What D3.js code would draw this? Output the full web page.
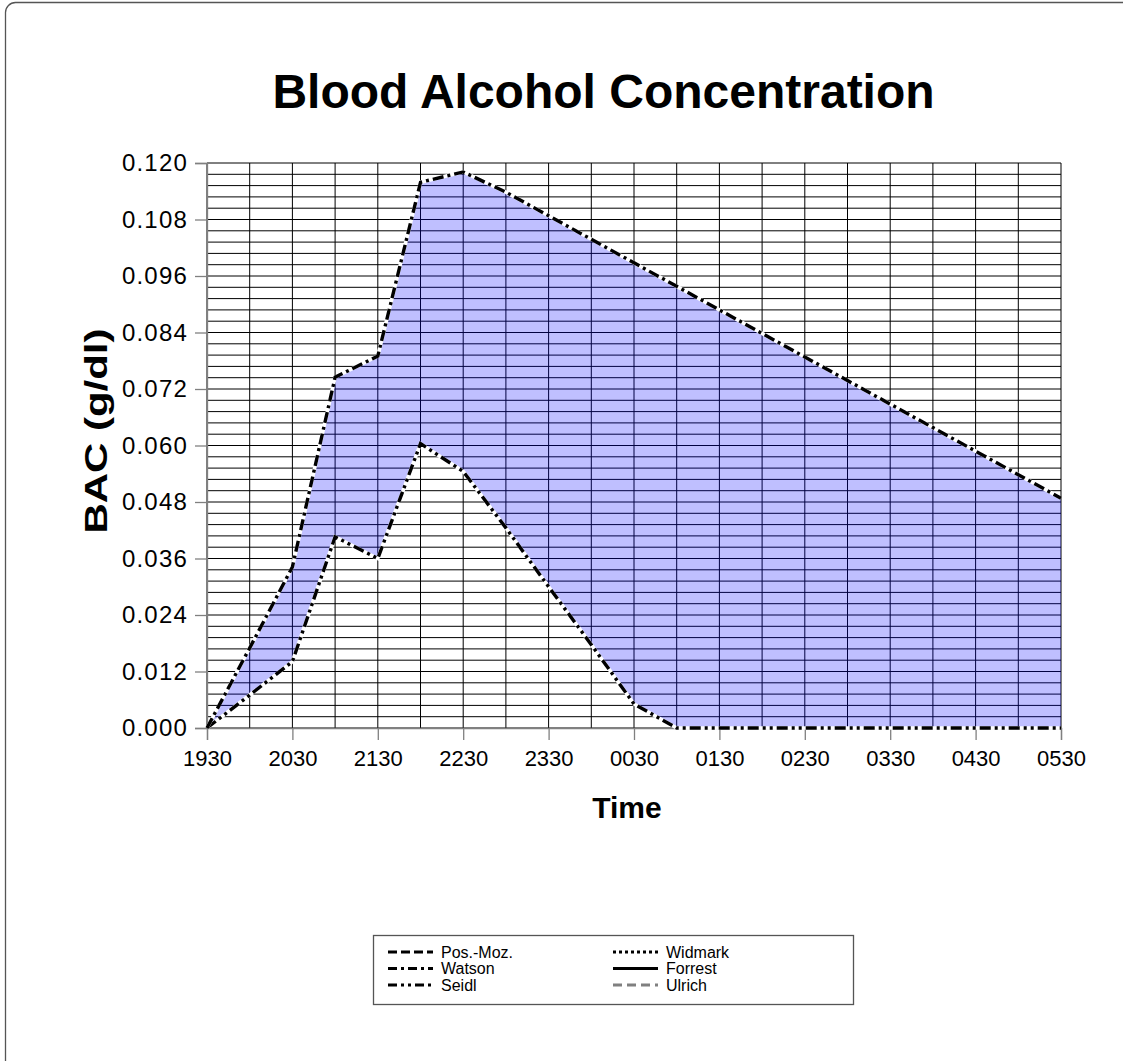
<!DOCTYPE html>
<html>
<head>
<meta charset="utf-8">
<script src="https://cdn.jsdelivr.net/npm/d3@7"></script>
<style>
  html, body { margin: 0; padding: 0; background: #fff; }
  svg { display: block; }
  text { font-family: "Liberation Sans", Arial, sans-serif; }
</style>
</head>
<body>
<svg id="chart" width="1123" height="1061"></svg>
<script>
// ---- data ----
const times = ["1930","2000","2030","2100","2130","2200","2230","2300","2330","0000","0030",
               "0100","0130","0200","0230","0300","0330","0400","0430","0500","0530"];
const xTickLabels = ["1930","2030","2130","2230","2330","0030","0130","0230","0330","0430","0530"];
const yTickValues = [0, 0.012, 0.024, 0.036, 0.048, 0.060, 0.072, 0.084, 0.096, 0.108, 0.120];
const watson = [0, 0.0170, 0.0342, 0.0745, 0.0790, 0.1159, 0.1181, 0.1138, 0.1088, 0.1038, 0.0988,
                0.0938, 0.0888, 0.0838, 0.0788, 0.0738, 0.0688, 0.0638, 0.0588, 0.0538, 0.0488];
const seidl  = [0, 0.0070, 0.0141, 0.0406, 0.0360, 0.0604, 0.0545, 0.0425, 0.0300, 0.0177, 0.0051,
                0, 0, 0, 0, 0, 0, 0, 0, 0, 0];
const legendNames = ["Pos.-Moz.", "Watson", "Seidl", "Widmark", "Forrest", "Ulrich"];

// ---- layout ----
const svg = d3.select("#chart");
const pLeft = 207, pRight = 1061, pTop = 163, pBottom = 728;

svg.append("rect").attr("x", 5.5).attr("y", 2.5).attr("width", 1150).attr("height", 1080)
  .attr("rx", 10).attr("fill", "none").attr("stroke", "#555").attr("stroke-width", 1.3);

const x = d3.scalePoint().domain(times).range([pLeft, pRight]);
const y = d3.scaleLinear().domain([0, 0.12]).range([pBottom, pTop]);

// gridlines
const g = svg.append("g");
const minorY = d3.range(0, 0.12 + 1e-9, 0.0024);
g.selectAll("line.h").data(minorY).join("line").attr("class", "h")
  .attr("x1", pLeft).attr("x2", pRight).attr("y1", d => y(d)).attr("y2", d => y(d))
  .attr("stroke", "#000").attr("stroke-width", 1);
g.selectAll("line.v").data(times).join("line").attr("class", "v")
  .attr("x1", d => x(d)).attr("x2", d => x(d)).attr("y1", pTop).attr("y2", pBottom)
  .attr("stroke", "#000").attr("stroke-width", 1);

// area between
const idx = d3.range(times.length);
const area = d3.area().x(i => x(times[i])).y0(i => y(seidl[i])).y1(i => y(watson[i]));
svg.append("path").datum(idx).attr("d", area).attr("fill", "#0000ff").attr("fill-opacity", 0.25);

// axes
const xAxis = d3.axisBottom(x).tickValues(xTickLabels).tickSize(12).tickPadding(10);
const gx = svg.append("g").attr("transform", `translate(0,${pBottom})`).call(xAxis);
gx.select(".domain").attr("stroke", "#808080").attr("stroke-width", 1.3);
gx.selectAll(".tick line").attr("stroke", "#808080").attr("stroke-width", 1.3);
gx.selectAll(".tick text").attr("font-size", 22).attr("fill", "#000")
  .attr("font-family", "Liberation Sans, Arial, sans-serif");

const yAxis = d3.axisLeft(y).tickValues(yTickValues).tickFormat(d3.format(".3f")).tickSize(12).tickPadding(7);
const gy = svg.append("g").attr("transform", `translate(${pLeft},0)`).call(yAxis);
gy.select(".domain").attr("stroke", "#808080").attr("stroke-width", 1.3);
gy.selectAll(".tick line").attr("stroke", "#808080").attr("stroke-width", 1.3);
gy.selectAll(".tick text").attr("font-size", 24).attr("fill", "#000")
  .attr("letter-spacing", 1.2)
  .attr("font-family", "Liberation Sans, Arial, sans-serif");

// series lines
const line = arr => d3.line().x(i => x(times[i])).y(i => y(arr[i]));
const dashWatson = "11,4,3,4";
const dashSeidl = "11,4,3,4,3,4";
[[seidl, dashSeidl], [watson, dashWatson]].forEach(([arr, dash]) => {
  svg.append("path").datum(idx).attr("d", line(arr)).attr("fill", "none")
    .attr("stroke", "#fff").attr("stroke-width", 3.6);
  svg.append("path").datum(idx).attr("d", line(arr)).attr("fill", "none")
    .attr("stroke", "#000").attr("stroke-width", 3.4).attr("stroke-dasharray", dash);
});

// titles
svg.append("text").attr("x", 603.5).attr("y", 108).attr("text-anchor", "middle")
  .attr("font-size", 48).attr("font-weight", "bold").text("Blood Alcohol Concentration");
svg.append("text").attr("x", 627).attr("y", 818).attr("text-anchor", "middle")
  .attr("font-size", 30).attr("font-weight", "bold").text("Time");
svg.append("text").attr("transform", "translate(107,431) rotate(-90)").attr("text-anchor", "middle")
  .attr("font-size", 31).attr("font-weight", "bold")
  .attr("textLength", 205).attr("lengthAdjust", "spacingAndGlyphs").text("BAC (g/dl)");

// legend
const lg = svg.append("g");
lg.append("rect").attr("x", 373.5).attr("y", 935.5).attr("width", 480).attr("height", 69)
  .attr("fill", "#fff").attr("stroke", "#555").attr("stroke-width", 1.3);
const legendStyles = [
  {dash: "9,4", color: "#000"},
  {dash: "9,4,3,4", color: "#000"},
  {dash: "9,4,3,4,3,4", color: "#000"},
  {dash: "3,3", color: "#000"},
  {dash: null, color: "#000"},
  {dash: "9,5", color: "#808080"}
];
legendNames.forEach((name, i) => {
  const col = Math.floor(i / 3), row = i % 3;
  const lx = col === 0 ? 388 : 613;
  const ly = 952 + row * 16.5;
  const ln = lg.append("line").attr("x1", lx).attr("x2", lx + 45).attr("y1", ly).attr("y2", ly)
    .attr("stroke", legendStyles[i].color).attr("stroke-width", 3.2);
  if (legendStyles[i].dash) ln.attr("stroke-dasharray", legendStyles[i].dash);
  lg.append("text").attr("x", lx + 53).attr("y", ly + 5.5).attr("font-size", 16).text(name);
});
</script>
</body>
</html>
